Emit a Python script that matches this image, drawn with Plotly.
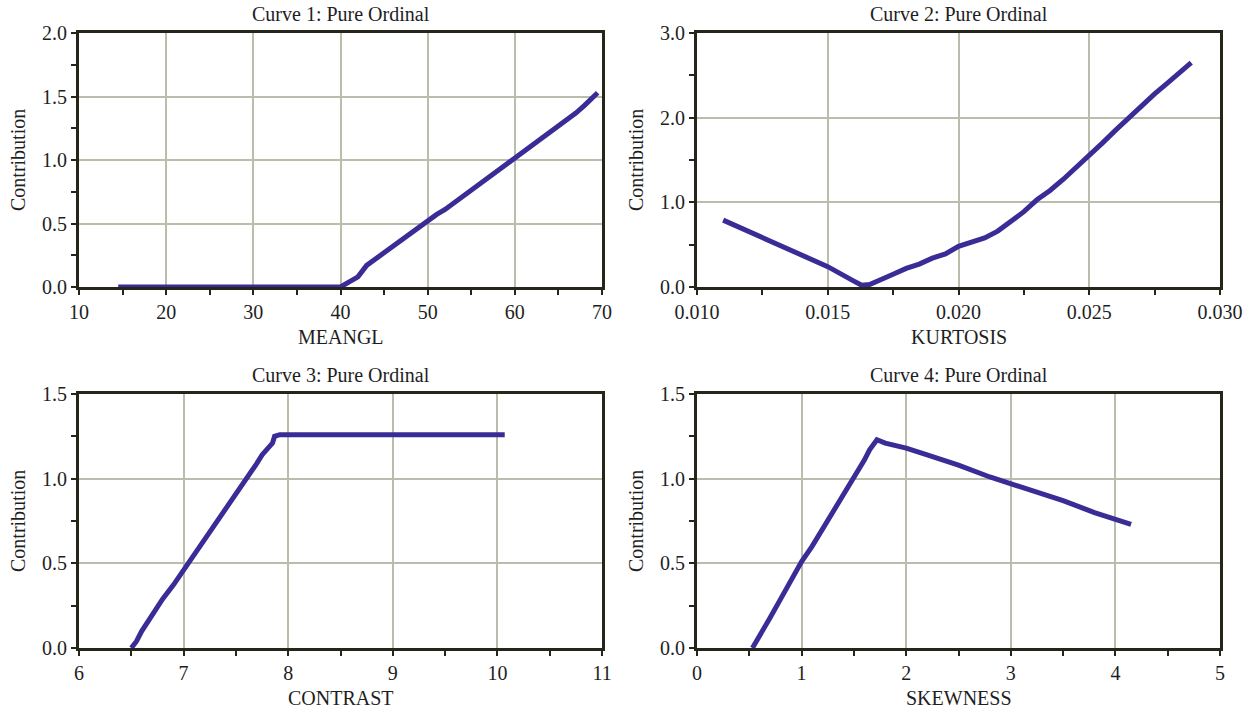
import plotly.graph_objects as go

# ---------------- data ----------------
meangl_x = [14.5, 20, 25, 30, 35, 40, 41, 42, 43, 44, 45, 46, 47, 48, 49, 50, 51, 52, 53, 54, 55,
            56, 57, 58, 59, 60, 61, 62, 63, 64, 65, 66, 67, 68, 69, 69.5]
meangl_y = [0, 0, 0, 0, 0, 0, 0.04, 0.08, 0.17, 0.22, 0.27, 0.33, 0.37, 0.43, 0.48, 0.53, 0.57, 0.61,
            0.66, 0.72, 0.76, 0.81, 0.86, 0.92, 0.97, 1.02, 1.06, 1.11, 1.17, 1.22, 1.27, 1.32, 1.37,
            1.43, 1.49, 1.53]

kurt_x = [0.011, 0.012, 0.013, 0.014, 0.015, 0.016, 0.0163, 0.0166, 0.017, 0.0175, 0.018, 0.0185,
          0.019, 0.0195, 0.020, 0.0205, 0.021, 0.0215, 0.022, 0.0225, 0.023, 0.0235, 0.024, 0.0245,
          0.025, 0.0255, 0.026, 0.0265, 0.027, 0.0275, 0.028, 0.0285, 0.0289]
kurt_y = [0.79, 0.65, 0.51, 0.38, 0.24, 0.07, 0.02, 0.03, 0.09, 0.15, 0.22, 0.27, 0.34, 0.39, 0.48,
          0.53, 0.58, 0.66, 0.78, 0.89, 1.03, 1.14, 1.27, 1.41, 1.56, 1.70, 1.85, 2.00, 2.14, 2.28,
          2.41, 2.54, 2.65]

contrast_x = [6.5, 6.55, 6.6, 6.7, 6.8, 6.9, 7.0, 7.1, 7.2, 7.3, 7.4, 7.5, 7.6, 7.7, 7.75, 7.8,
              7.85, 7.87, 7.92, 10.07]
contrast_y = [0, 0.04, 0.1, 0.2, 0.29, 0.37, 0.46, 0.55, 0.63, 0.72, 0.81, 0.9, 1.0, 1.09, 1.14,
              1.18, 1.21, 1.25, 1.26, 1.26]

skew_x = [0.53, 0.6, 0.7, 0.8, 0.9, 1.0, 1.1, 1.2, 1.3, 1.4, 1.5, 1.6, 1.65, 1.72, 1.8, 2.0, 2.2,
          2.5, 2.8, 3.0, 3.3, 3.5, 3.8, 4.0, 4.15]
skew_y = [0, 0.08, 0.18, 0.29, 0.4, 0.51, 0.6, 0.7, 0.8, 0.91, 1.01, 1.11, 1.17, 1.23, 1.21, 1.18,
          1.14, 1.08, 1.01, 0.97, 0.91, 0.87, 0.8, 0.76, 0.73]

titles = ["Curve 1: Pure Ordinal", "Curve 2: Pure Ordinal", "Curve 3: Pure Ordinal", "Curve 4: Pure Ordinal"]
xlabels = ["MEANGL", "KURTOSIS", "CONTRAST", "SKEWNESS"]
ylabel = "Contribution"

panels = [
    dict(x=meangl_x, y=meangl_y, xr=[10, 70], xd=10, xm=5, xf="d", yr=[0, 2], yd=0.5, ym=0.25),
    dict(x=kurt_x, y=kurt_y, xr=[0.010, 0.030], xd=0.005, xm=0.0025, xf=".3f", yr=[0, 3], yd=1, ym=0.5),
    dict(x=contrast_x, y=contrast_y, xr=[6, 11], xd=1, xm=0.5, xf="d", yr=[0, 1.5], yd=0.5, ym=0.25),
    dict(x=skew_x, y=skew_y, xr=[0, 5], xd=1, xm=0.5, xf="d", yr=[0, 1.5], yd=0.5, ym=0.25),
]

W, H = 1255, 712
# plot-area pixel boxes (left, right, top, bottom)
boxes = [(79, 602, 33, 287), (697, 1220, 33, 287), (79, 602, 394, 648), (697, 1220, 394, 648)]

FONT = "Liberation Serif"
FS = 20
TXT = "#1e1e1e"
LINE = "#25251a"
GRID = "#bcbcac"
CURVE = "#3a2c96"

fig = go.Figure()
layout = dict(width=W, height=H, margin=dict(l=0, r=0, t=0, b=0, autoexpand=False),
              paper_bgcolor="white", plot_bgcolor="white", showlegend=False,
              font=dict(family=FONT, size=FS, color=TXT))
annotations = []

for i, (p, b) in enumerate(zip(panels, boxes)):
    n = "" if i == 0 else str(i + 1)
    l, r, t, bt = b
    xdom = [l / W, r / W]
    ydom = [1 - bt / H, 1 - t / H]
    fig.add_trace(go.Scatter(x=p["x"], y=p["y"], mode="lines", xaxis="x" + n, yaxis="y" + n,
                             line=dict(color=CURVE, width=5), cliponaxis=False))
    common = dict(showline=True, linecolor=LINE, linewidth=3, mirror=True, automargin=False,
                  showgrid=True, gridcolor=GRID, gridwidth=2, zeroline=False,
                  ticks="outside", ticklen=5, tickwidth=2, tickcolor=LINE,
                  tickfont=dict(family=FONT, size=FS, color=TXT), fixedrange=True)
    layout["xaxis" + n] = dict(common, domain=xdom, range=p["xr"], dtick=p["xd"], tick0=p["xr"][0],
                               tickformat=p["xf"], anchor="y" + n,
                               minor=dict(dtick=p["xm"], ticks="outside", ticklen=5, tickwidth=2,
                                          tickcolor=LINE, showgrid=False))
    layout["yaxis" + n] = dict(common, domain=ydom, range=p["yr"], dtick=p["yd"], tick0=0,
                               tickformat=".1f", anchor="x" + n,
                               minor=dict(dtick=p["ym"], ticks="outside", ticklen=5, tickwidth=2,
                                          tickcolor=LINE, showgrid=False))
    # overlay axes: inner half of the crossing tick marks
    ox, oy = str(5 + 2 * i), str(6 + 2 * i)
    inner = dict(showline=False, showgrid=False, zeroline=False, showticklabels=False,
                 automargin=False, ticks="inside", ticklen=5, tickwidth=2, tickcolor=LINE,
                 fixedrange=True)
    layout["xaxis" + ox] = dict(inner, overlaying="x" + n, anchor="y" + n, side="bottom",
                                range=p["xr"], dtick=p["xd"], tick0=p["xr"][0],
                                minor=dict(dtick=p["xm"], ticks="inside", ticklen=5, tickwidth=2,
                                           tickcolor=LINE, showgrid=False))
    layout["yaxis" + oy] = dict(inner, overlaying="y" + n, anchor="x" + n, side="left",
                                range=p["yr"], dtick=p["yd"], tick0=0,
                                minor=dict(dtick=p["ym"], ticks="inside", ticklen=5, tickwidth=2,
                                           tickcolor=LINE, showgrid=False))
    cx = (l + r) / 2 / W
    annotations.append(dict(text=titles[i], x=cx, y=1 - (t - 19) / H, xref="paper", yref="paper",
                            showarrow=False, font=dict(family=FONT, size=FS, color=TXT),
                            xanchor="center", yanchor="middle"))
    annotations.append(dict(text=xlabels[i], x=cx, y=1 - (bt + 50) / H, xref="paper", yref="paper",
                            showarrow=False, font=dict(family=FONT, size=FS, color=TXT),
                            xanchor="center", yanchor="middle"))
    annotations.append(dict(text=ylabel, x=(l - 61) / W, y=1 - (t + bt) / 2 / H, xref="paper",
                            yref="paper", showarrow=False, textangle=-90,
                            font=dict(family=FONT, size=FS, color=TXT),
                            xanchor="center", yanchor="middle"))

layout["annotations"] = annotations
fig.update_layout(**layout)
fig.write_html("out.html")
